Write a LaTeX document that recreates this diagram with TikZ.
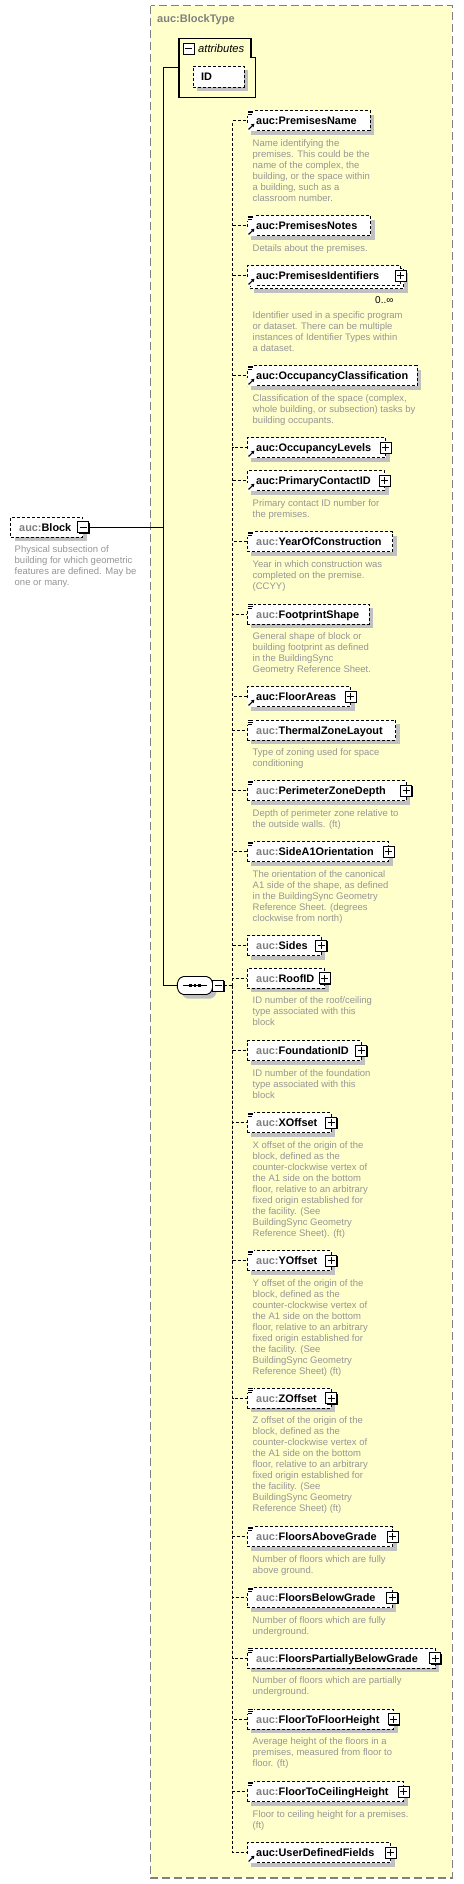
\documentclass[tikz,border=0pt]{standalone}
\usepackage{fontspec}
\setmainfont{Liberation Sans}
\usetikzlibrary{arrows.meta}
\definecolor{panelfill}{RGB}{255,255,204}
\definecolor{panelline}{RGB}{128,128,128}
\definecolor{shadowc}{RGB}{192,192,192}
\definecolor{descc}{RGB}{150,150,150}
\definecolor{prefixc}{RGB}{128,128,128}
\tikzset{
  panel/.style={draw=panelline, fill=panelfill, line width=1.2pt, dash pattern=on 8pt off 4pt},
  ebox/.style={draw=black, fill=white, line width=0.9pt, dash pattern=on 3pt off 2pt, minimum height=20pt, inner sep=0pt, outer sep=0pt},
  ntext/.style={inner sep=0pt, font=\fontsize{10.9}{13}\selectfont\bfseries},
  dtext/.style={inner sep=0pt, text=descc, font=\fontsize{9.5}{11}\selectfont},
  conn/.style={draw=black, line width=0.9pt},
  dconn/.style={draw=black, line width=0.9pt, dash pattern=on 3pt off 2pt},
  pbox/.style={draw=black, fill=white, line width=0.9pt, minimum size=11pt, inner sep=0pt, outer sep=0pt},
  shad/.style={fill=shadowc},
}
\newcommand\XChild[5]{%
  \fill[shad] (251.3,#2+4) rectangle (#3+4,#2+24);
  \pgfmathsetmacro\XCw{#3-247.3}%
  \node[ebox, minimum width=\XCw pt, anchor=north west] (#1) at (247.3,#2) {};
  \node[ntext, anchor=base west] (#1-n) at (256,#2+14) {\textcolor{#4}{auc:}#5};
}
\newcommand\XDoc[1]{%
  \fill[white] (246.8,#1-0.8) rectangle (253.6,#1+4.8);
  \draw[line width=0.7pt] (247.6,#1+0.3) -- (253,#1+0.3) (247.6,#1+2.1) -- (253,#1+2.1) (247.6,#1+3.9) -- (252,#1+3.9);
}
\newcommand\XRef[1]{%
  \fill[white] (246.8,#1-8) rectangle (255,#1+0.5);
  \draw[line width=1.1pt, -{Triangle[length=3pt,width=3.5pt]}] (248.6,#1-1.3) -- (254.4,#1-7);
}
\newcommand\XPlus[3]{%
  \fill[black] (#2-4.5,#3-4.5) rectangle (#2+6.5,#3+6.5);
  \node[pbox] (#1) at (#2,#3) {};
  \draw[line width=0.9pt] (#2-3.5,#3) -- (#2+3.5,#3) (#2,#3-3.5) -- (#2,#3+3.5);
}
\newcommand\XMinus[3]{%
  \fill[black] (#2-4.5,#3-4.5) rectangle (#2+6.5,#3+6.5);
  \node[pbox] (#1) at (#2,#3) {};
  \draw[line width=0.9pt] (#2-3.5,#3) -- (#2+3.5,#3);
}
\newcommand\XDesc[3]{%
  \node[dtext, anchor=base west] (#1) at (252.5,#2) {\parbox[t]{210pt}{\fontsize{9.5}{11}\selectfont #3}};
}
\begin{document}
\begin{tikzpicture}[x=1pt,y=-1pt]
\fill[white] (0,0) rectangle (463,1884);
\useasboundingbox (0,0) rectangle (463,1884);
% panel
\draw[panel] (150.5,5.7) rectangle (452.3,1878);
\node[anchor=base west, inner sep=0pt, text=panelline, font=\fontsize{11}{13}\selectfont\bfseries] (title) at (157,23) {auc:BlockType};
% attributes
\draw[line width=1.1pt] (179,38.3) -- (251,38.3) -- (251,57.3) -- (255.7,57.3) -- (255.7,97.3) -- (179,97.3) -- cycle;
\node[minimum width=76.7pt, minimum height=59pt, inner sep=0pt, outer sep=0pt, anchor=north west] (attr) at (179,38.3) {};
\XMinus{am}{188.8}{48.5}
\node[anchor=base west, inner sep=0pt, font=\fontsize{11.2}{13}\selectfont\itshape] (attrt) at (198,52.5) {attributes};
\fill[shad] (197,70) rectangle (248,91);
\node[ebox, minimum width=51pt, minimum height=21pt, anchor=north west] (id) at (193,66) {};
\node[ntext, anchor=base west] (idt) at (201,80.5) {ID};
% block
\fill[shad] (14.7,521.3) rectangle (86.7,541.3);
\node[ebox, minimum width=72pt, anchor=north west] (blk) at (10.7,517.3) {};
\node[ntext, anchor=base west] (blkt) at (19,531.5) {\textcolor{prefixc}{auc:}Block};
\XMinus{bm}{83}{527.3}
\node[dtext, anchor=base west] (blkd) at (14.5,552.8) {\parbox[t]{200pt}{\fontsize{9.5}{11}\selectfont Physical subsection of\\building for which geometric\\features are defined. May be\\one or many.}};
% sequence
\fill[shad, rounded corners=2pt] (185.3,980.5) -- (212.7,980.5) -- (216.7,985.5) -- (216.7,993.5) -- (212.7,998.5) -- (185.3,998.5) -- (181.3,993.5) -- (181.3,985.5) -- cycle;
\draw[fill=white, line width=0.9pt, rounded corners=2pt] (181.3,976.5) -- (208.7,976.5) -- (212.7,981.5) -- (212.7,989.5) -- (208.7,994.5) -- (181.3,994.5) -- (177.3,989.5) -- (177.3,981.5) -- cycle;
\node[minimum width=35.4pt, minimum height=18pt, inner sep=0pt, outer sep=0pt] (seq) at (195,985.5) {};
\draw[line width=0.9pt] (183,985.5) -- (207,985.5);
\foreach \xx in {190.5,195,199.5} \fill (\xx-1.4,984.1) rectangle (\xx+1.4,986.9);
\XMinus{sm}{218.2}{985.5}
% connectors from block
\coordinate (jn) at (163.3,527.3);
\draw[conn] (bm.east) -- (jn);
\draw[conn] (jn) |- (attr.west);
\draw[conn] (jn) |- (seq.west);
% children
\XChild{c1}{110.7}{370}{black}{PremisesName}
\XDoc{110.7}\XRef{130.7}
\XDesc{d1}{146.2}{Name identifying the\\premises. This could be the\\name of the complex, the\\building, or the space within\\a building, such as a\\classroom number.}
\XChild{c2}{215.7}{370.7}{black}{PremisesNotes}
\XDoc{215.7}\XRef{235.7}
\XDesc{d2}{251.2}{Details about the premises.}
% c3 with multiplicity
\fill[shad] (254.3,272.7) rectangle (407.7,292.7);
\draw[fill=white, line width=0.9pt, dash pattern=on 3pt off 2pt] (250.3,268.7) rectangle (403.7,288.7);
\node[ebox, minimum width=153.4pt, anchor=north west] (c3) at (247.3,265.7) {};
\node[ntext, anchor=base west] (c3-n) at (256,279.7) {auc:PremisesIdentifiers};
\XRef{285.7}
\XPlus{p3}{400.7}{275.7}
\node[anchor=base west, inner sep=0pt, font=\fontsize{10}{12}\selectfont] (m3) at (375,303.5) {0..∞};
\XDesc{d3}{318.5}{Identifier used in a specific program\\or dataset. There can be multiple\\instances of Identifier Types within\\a dataset.}
\XChild{c4}{365.7}{417.3}{black}{OccupancyClassification}
\XDoc{365.7}\XRef{385.7}
\XDesc{d4}{401.2}{Classification of the space (complex,\\whole building, or subsection) tasks by\\building occupants.}
\XChild{c5}{437.7}{385.7}{black}{OccupancyLevels}
\XRef{457.7}\XPlus{p5}{385.7}{447.7}
\XChild{c6}{470.7}{384.5}{black}{PrimaryContactID}
\XRef{490.7}\XPlus{p6}{384.5}{480.7}
\XDesc{d6}{506.2}{Primary contact ID number for\\the premises.}
\XChild{c7}{531.7}{392.7}{prefixc}{YearOfConstruction}
\XDoc{531.7}
\XDesc{d7}{567.2}{Year in which construction was\\completed on the premise.\\(CCYY)}
\XChild{c8}{604}{369}{prefixc}{FootprintShape}
\XDoc{604}
\XDesc{d8}{639.5}{General shape of block or\\building footprint as defined\\in the BuildingSync\\Geometry Reference Sheet.}
\XChild{c9}{686.7}{350.7}{black}{FloorAreas}
\XRef{706.7}\XPlus{p9}{350.7}{696.7}
\XChild{c10}{720}{395.7}{prefixc}{ThermalZoneLayout}
\XDoc{720}
\XDesc{d10}{755.5}{Type of zoning used for space\\conditioning}
\XChild{c11}{780.7}{406.2}{prefixc}{PerimeterZoneDepth}
\XDoc{780.7}\XPlus{p11}{406.2}{790.7}
\XDesc{d11}{816.2}{Depth of perimeter zone relative to\\the outside walls. (ft)}
\XChild{c12}{841.7}{388.8}{prefixc}{SideA1Orientation}
\XDoc{841.7}\XPlus{p12}{388.8}{851.7}
\XDesc{d12}{877.2}{The orientation of the canonical\\A1 side of the shape, as defined\\in the BuildingSync Geometry\\Reference Sheet. (degrees\\clockwise from north)}
\XChild{c13}{935.7}{321.3}{prefixc}{Sides}
\XPlus{p13}{321.3}{945.7}
\XChild{c14}{968.3}{324.7}{prefixc}{RoofID}
\XPlus{p14}{324.7}{978.3}
\XDesc{d14}{1003.8}{ID number of the roof/ceiling\\type associated with this\\block}
\XChild{c15}{1040.7}{361.2}{prefixc}{FoundationID}
\XPlus{p15}{361.2}{1050.7}
\XDesc{d15}{1076.2}{ID number of the foundation\\type associated with this\\block}
\XChild{c16}{1112.7}{331.2}{prefixc}{XOffset}
\XDoc{1112.7}\XPlus{p16}{331.2}{1122.7}
\XDesc{d16}{1148.2}{X offset of the origin of the\\block, defined as the\\counter-clockwise vertex of\\the A1 side on the bottom\\floor, relative to an arbitrary\\fixed origin established for\\the facility. (See\\BuildingSync Geometry\\Reference Sheet). (ft)}
\XChild{c17}{1250.7}{331.2}{prefixc}{YOffset}
\XDoc{1250.7}\XPlus{p17}{331.2}{1260.7}
\XDesc{d17}{1286.2}{Y offset of the origin of the\\block, defined as the\\counter-clockwise vertex of\\the A1 side on the bottom\\floor, relative to an arbitrary\\fixed origin established for\\the facility. (See\\BuildingSync Geometry\\Reference Sheet) (ft)}
\XChild{c18}{1388.3}{331.2}{prefixc}{ZOffset}
\XDoc{1388.3}\XPlus{p18}{331.2}{1398.3}
\XDesc{d18}{1423.8}{Z offset of the origin of the\\block, defined as the\\counter-clockwise vertex of\\the A1 side on the bottom\\floor, relative to an arbitrary\\fixed origin established for\\the facility. (See\\BuildingSync Geometry\\Reference Sheet) (ft)}
\XChild{c19}{1526.7}{392.7}{prefixc}{FloorsAboveGrade}
\XDoc{1526.7}\XPlus{p19}{392.7}{1536.7}
\XDesc{d19}{1562.2}{Number of floors which are fully\\above ground.}
\XChild{c20}{1587.7}{392.2}{prefixc}{FloorsBelowGrade}
\XDoc{1587.7}\XPlus{p20}{392.2}{1597.7}
\XDesc{d20}{1623.2}{Number of floors which are fully\\underground.}
\XChild{c21}{1648.3}{435}{prefixc}{FloorsPartiallyBelowGrade}
\XDoc{1648.3}\XPlus{p21}{435}{1658.3}
\XDesc{d21}{1683.8}{Number of floors which are partially\\underground.}
\XChild{c22}{1709.3}{393.5}{prefixc}{FloorToFloorHeight}
\XDoc{1709.3}\XPlus{p22}{393.5}{1719.3}
\XDesc{d22}{1744.8}{Average height of the floors in a\\premises, measured from floor to\\floor. (ft)}
\XChild{c23}{1781.7}{403.8}{prefixc}{FloorToCeilingHeight}
\XDoc{1781.7}\XPlus{p23}{403.8}{1791.7}
\XDesc{d23}{1817.2}{Floor to ceiling height for a premises.\\(ft)}
\XChild{c24}{1842.7}{390.5}{black}{UserDefinedFields}
\XRef{1862.7}\XPlus{p24}{390.5}{1852.7}
% spine connectors
\coordinate (sp) at (232.7,985.5);
\draw[dconn] (sm.east) -- (sp);
\foreach \k in {1,...,24} \draw[dconn] (sp) |- (c\k.west);
\end{tikzpicture}
\end{document}
